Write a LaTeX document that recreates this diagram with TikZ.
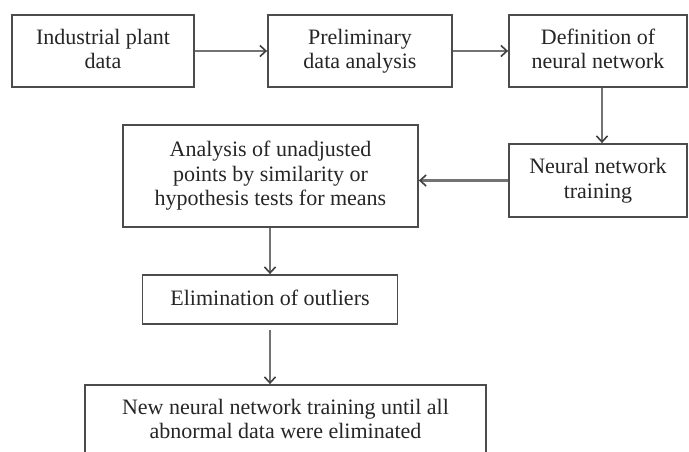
\documentclass[tikz,border=0pt]{standalone}
\usepackage{fontspec}
\setmainfont{Liberation Serif}
\usepackage{tikz}
\usetikzlibrary{arrows.meta}

\newcommand{\boxstrut}{\rule[-4pt]{0pt}{20pt}}

\tikzset{
    block/.style={draw=black!70, line width=1.8pt, fill=white, text=black!85, align=center,
        inner sep=0pt, font=\fontsize{22}{24.5}\selectfont,
        execute at begin node=\boxstrut, execute at end node=\boxstrut},
    link/.style={-{Straight Barb[length=6pt,width=11pt,line width=1.6pt,color=black!75]}, draw=black!55, line width=2.2pt}
}

\begin{document}
\begin{tikzpicture}[x=1pt, y=-1pt]
    \clip (0,0) rectangle (689,452);
    \fill[white] (0,0) rectangle (689,452);
    % Define boxes
        \node[block, minimum width=182pt, minimum height=72pt] (plant) at (103,51) {Industrial plant\\data};
        \node[block, minimum width=184pt, minimum height=72pt] (prelim) at (360,51) {Preliminary\\data analysis};
        \node[block, minimum width=178pt, minimum height=72pt] (defnet) at (598,51) {Definition of\\neural network};
        \node[block, minimum width=178pt, minimum height=73pt] (train) at (598,180.5) {Neural network\\training};
        \node[block, minimum width=295pt, minimum height=102pt] (analysis) at (270.5,176) {Analysis of unadjusted\\points by similarity or\\hypothesis tests for means};
        \node[block, minimum width=255pt, minimum height=49pt] (elim) at (270,299.5) {Elimination of outliers};
        \node[block, minimum width=401pt, minimum height=72pt] (retrain) at (285.5,421) {New neural network training until all\\abnormal data were eliminated};
        % Draw arrows
        \draw[link] (plant) -- (prelim);
        \draw[link] (prelim) -- (defnet);
        \draw[link] ([xshift=4pt]defnet.south) -- ([xshift=4pt]train.north);
        \draw[link] (train.west) -- (train.west -| analysis.east);
        \draw[link] (analysis.south -| elim.north) -- (elim.north);
        \draw[link, shorten <=5pt] (elim.south) -- (elim.south |- retrain.north);
    \end{tikzpicture}
\end{document}
